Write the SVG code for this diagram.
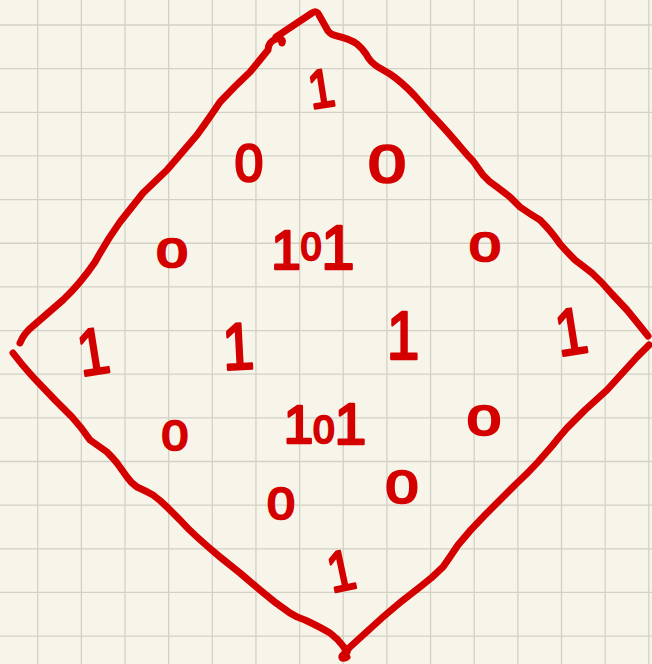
<svg xmlns="http://www.w3.org/2000/svg" width="652" height="664" viewBox="0 0 652 664">
<style>
.grid line{stroke:#d3d1c5;stroke-width:1.3}
.ink{fill:none;stroke:#d40000;stroke-width:7;stroke-linecap:round;stroke-linejoin:round}
.d{font-family:"Liberation Sans",Arial,sans-serif;font-weight:normal;fill:#d40000;stroke:#d40000;stroke-width:2.6;stroke-linejoin:round;stroke-linecap:round;text-anchor:middle}
</style>
<rect width="652" height="664" fill="#f7f5ea"/>
<g class="grid">
<line x1="37.7" y1="0" x2="37.7" y2="664"/><line x1="81.35" y1="0" x2="81.35" y2="664"/><line x1="125" y1="0" x2="125" y2="664"/><line x1="168.65" y1="0" x2="168.65" y2="664"/><line x1="212.3" y1="0" x2="212.3" y2="664"/><line x1="255.95" y1="0" x2="255.95" y2="664"/><line x1="299.6" y1="0" x2="299.6" y2="664"/><line x1="343.25" y1="0" x2="343.25" y2="664"/><line x1="386.9" y1="0" x2="386.9" y2="664"/><line x1="430.55" y1="0" x2="430.55" y2="664"/><line x1="474.2" y1="0" x2="474.2" y2="664"/><line x1="517.85" y1="0" x2="517.85" y2="664"/><line x1="561.5" y1="0" x2="561.5" y2="664"/><line x1="605.15" y1="0" x2="605.15" y2="664"/><line x1="648.8" y1="0" x2="648.8" y2="664"/>
<line x1="0" y1="25" x2="652" y2="25"/><line x1="0" y1="68.65" x2="652" y2="68.65"/><line x1="0" y1="112.3" x2="652" y2="112.3"/><line x1="0" y1="155.95" x2="652" y2="155.95"/><line x1="0" y1="199.6" x2="652" y2="199.6"/><line x1="0" y1="243.25" x2="652" y2="243.25"/><line x1="0" y1="286.9" x2="652" y2="286.9"/><line x1="0" y1="330.55" x2="652" y2="330.55"/><line x1="0" y1="374.2" x2="652" y2="374.2"/><line x1="0" y1="417.85" x2="652" y2="417.85"/><line x1="0" y1="461.5" x2="652" y2="461.5"/><line x1="0" y1="505.15" x2="652" y2="505.15"/><line x1="0" y1="548.8" x2="652" y2="548.8"/><line x1="0" y1="592.45" x2="652" y2="592.45"/><line x1="0" y1="636.1" x2="652" y2="636.1"/>
</g>
<g id="diamond" class="ink">
<path d="M20,343 Q24,333 33,326 L63,300 Q80,284 95,262 Q107,240 120,222 L143,193 L167,170 L197,135 Q210,117 220,102 Q235,86 250,72 L268,50 Q268,42 276,39 Q284,38 282,43"/>
<path d="M276,37 L312,13 Q317,10 319,15 L328,31 Q331,35 337,36 Q350,39 357,44 Q362,48 366,54 Q370,62 378,67 L390,74 Q402,82 415,96 L430,113 L443,127 Q452,137 463,150 Q468,156 473,161 Q478,168 483,175 Q489,182 497,187 L510,197 Q515,202 520,207 Q530,214 540,220 Q552,232 560,244 Q568,253 575,260 Q583,266 592,273 Q602,282 612,294 L627,310 L640,326 L648,336"/>
<path d="M649,345 L637,357 L607,390 Q595,401 585,410 L567,428 Q559,437 552,446 L538,462 Q527,474 515,485 L485,515 Q470,530 458,545 Q450,557 443,567 Q432,578 420,587 Q400,602 383,617 L350,647 L342,656 Q341,660 347,657"/>
<path d="M13,353 Q22,365 33,377 L55,400 L72,417 Q82,428 90,440 L107,452 Q113,458 117,463 L127,477 Q131,483 137,487 Q146,491 153,495 Q160,500 167,507 L180,520 Q188,529 197,537 Q208,547 220,557 Q230,565 240,573 L260,590 Q275,603 290,613 Q296,617 305,620 Q320,627 330,633 Q338,639 343,646 L347,652"/>
</g>
<g id="digits">
<text class="d" x="321" y="107" font-size="54" transform="rotate(-9 323 88) translate(321 0) scale(0.85 1) translate(-321 0)">1</text>
<text class="d" x="249" y="181" font-size="51">0</text>
<text class="d" x="387" y="182" font-size="52" transform="translate(387 0) scale(1.3 1) translate(-387 0)">0</text>
<text class="d" x="172" y="267" font-size="40" transform="translate(172 0) scale(1.38 1) translate(-172 0)">0</text>
<text class="d" x="313" y="269" font-size="56" transform="translate(311 0) scale(0.95 1) translate(-311 0)">1<tspan font-size="39" dy="-9">0</tspan><tspan font-size="63" dy="9">1</tspan></text>
<text class="d" x="485" y="261" font-size="41" transform="translate(485 0) scale(1.36 1) translate(-485 0)">0</text>
<text class="d" x="93" y="374" font-size="66" transform="rotate(-9 95 350) translate(93 0) scale(0.85 1) translate(-93 0)">1</text>
<text class="d" x="238" y="369" font-size="66" transform="rotate(-3 240 345) translate(238 0) scale(0.85 1) translate(-238 0)">1</text>
<text class="d" x="403" y="359" font-size="69" transform="translate(403 0) scale(0.85 1) translate(-403 0)">1</text>
<text class="d" x="571" y="354" font-size="66" transform="rotate(-9 573 330) translate(571 0) scale(0.85 1) translate(-571 0)">1</text>
<text class="d" x="175" y="450" font-size="43" transform="translate(175 0) scale(1.1 1) translate(-175 0)">0</text>
<text class="d" x="325" y="443" font-size="53">1<tspan font-size="38">0</tspan><tspan font-size="57" dy="1">1</tspan></text>
<text class="d" x="484" y="435" font-size="43" transform="translate(484 0) scale(1.4 1) translate(-484 0)">0</text>
<text class="d" x="281" y="519" font-size="45" transform="translate(281 0) scale(1.1 1) translate(-281 0)">0</text>
<text class="d" x="402" y="503" font-size="47" transform="translate(402 0) scale(1.24 1) translate(-402 0)">0</text>
<text class="d" x="341" y="590" font-size="57" transform="rotate(-12 343 570) translate(341 0) scale(0.85 1) translate(-341 0)">1</text>
</g>
</svg>
